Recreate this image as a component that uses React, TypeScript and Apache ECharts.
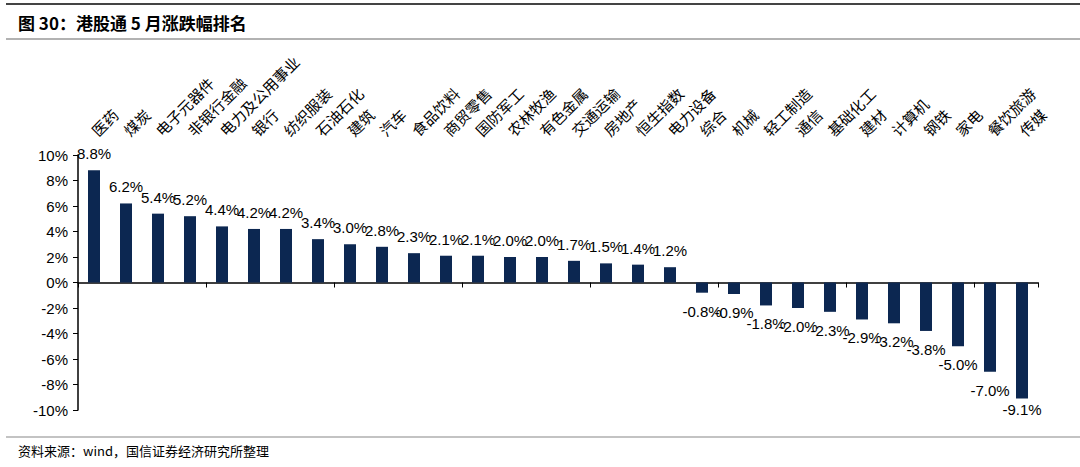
import React, { useEffect, useRef } from "react";
import * as echarts from "echarts";

const categories = [
  "医药", "煤炭", "电子元器件", "非银行金融", "电力及公用事业", "银行", "纺织服装", "石油石化", "建筑", "汽车",
  "食品饮料", "商贸零售", "国防军工", "农林牧渔", "有色金属", "交通运输", "房地产", "恒生指数", "电力设备", "综合",
  "机械", "轻工制造", "通信", "基础化工", "建材", "计算机", "钢铁", "家电", "餐饮旅游", "传媒",
];
const values = [
  8.8, 6.2, 5.4, 5.2, 4.4, 4.2, 4.2, 3.4, 3.0, 2.8,
  2.3, 2.1, 2.1, 2.0, 2.0, 1.7, 1.5, 1.4, 1.2, -0.8,
  -0.9, -1.8, -2.0, -2.3, -2.9, -3.2, -3.8, -5.0, -7.0, -9.1,
];
const titleText = "图 30：港股通 5 月涨跌幅排名";
const sourceText = "资料来源：wind，国信证券经济研究所整理";

const W = 1080;
const H = 467;
const BAR = "#0c2751";
const NUM_FONT = "Arial, 'Liberation Sans', sans-serif";
const CJK_FONT = "'Noto Sans CJK SC', sans-serif";

export default function App() {
  const ref = useRef<HTMLDivElement>(null);
  useEffect(() => {
    if (!ref.current) return;
    const chart = echarts.init(ref.current, undefined, { renderer: "svg" });
    const minVal = Math.min(...values);
    chart.setOption({
      animation: false,
      backgroundColor: "#ffffff",
      grid: { left: 78, right: 42, top: 155, bottom: 57, containLabel: false },
      xAxis: [
        {
          type: "category",
          data: categories,
          axisLine: { onZero: true, lineStyle: { color: "#000", width: 1.5 } },
          axisTick: { show: true, length: 5, lineStyle: { color: "#000" } },
          axisLabel: { show: false },
        },
        {
          type: "category",
          position: "top",
          data: categories,
          axisLine: { show: false },
          axisTick: { show: false },
          axisLabel: {
            interval: 0,
            rotate: -45,
            margin: 22,
            fontSize: 15,
            color: "#000",
            fontFamily: CJK_FONT,
          },
        },
      ],
      yAxis: {
        type: "value",
        min: -10,
        max: 10,
        interval: 2,
        splitLine: { show: false },
        axisLine: { show: true, lineStyle: { color: "#000", width: 1.5 } },
        axisTick: { show: true, length: 5, lineStyle: { color: "#000" } },
        axisLabel: {
          formatter: "{value}%",
          fontSize: 15,
          color: "#000",
          fontFamily: NUM_FONT,
          margin: 10,
        },
      },
      series: [
        {
          type: "bar",
          xAxisIndex: 0,
          data: values.map((v) => ({
            value: v,
            label: {
              show: true,
              position: v >= 0 ? "top" : "bottom",
              distance: v >= 0 ? 9 : v === minVal ? 3 : 11,
            },
          })),
          barWidth: 12,
          itemStyle: { color: BAR },
          label: {
            show: true,
            formatter: (p: any) => p.value.toFixed(1) + "%",
            fontSize: 15,
            color: "#000",
            fontFamily: NUM_FONT,
          },
        },
      ],
      graphic: [
        { type: "line", shape: { x1: 6, y1: 4, x2: W, y2: 4 }, style: { stroke: "#444", lineWidth: 2 } },
        {
          type: "text",
          left: 18,
          top: 14,
          style: { text: titleText, font: `bold 17px ${CJK_FONT}`, fill: "#000" },
        },
        { type: "line", shape: { x1: 6, y1: 39, x2: W, y2: 39 }, style: { stroke: "#999", lineWidth: 1.5 } },
        { type: "line", shape: { x1: 6, y1: 437, x2: W, y2: 437 }, style: { stroke: "#888", lineWidth: 1.2 } },
        {
          type: "text",
          left: 18,
          top: 444,
          style: { text: sourceText, font: `13px ${CJK_FONT}`, fill: "#000" },
        },
      ],
    });
    return () => chart.dispose();
  }, []);
  return (
    <div
      ref={ref}
      style={{ position: "absolute", left: 0, top: 0, width: W, height: H }}
    />
  );
}
